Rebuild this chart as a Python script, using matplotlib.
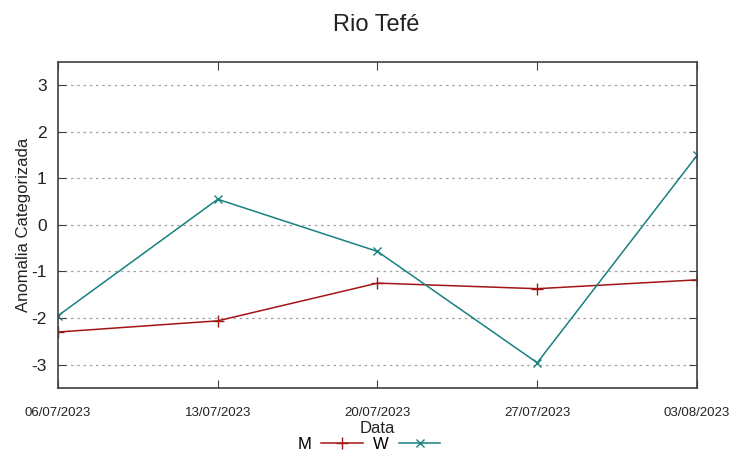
import matplotlib
matplotlib.use("Agg")
import matplotlib.pyplot as plt

plt.rcParams['font.family'] = ['Liberation Sans', 'DejaVu Sans']
plt.rcParams['axes.unicode_minus'] = False

dates = ["06/07/2023", "13/07/2023", "20/07/2023", "27/07/2023", "03/08/2023"]
m_vals = [-2.30, -2.06, -1.25, -1.37, -1.18]
w_vals = [-1.95, 0.55, -0.57, -2.96, 1.49]

red = '#a31515'
teal = '#178080'
frame = '#404040'

fig = plt.figure(figsize=(7.53, 4.58), dpi=100)
ax = fig.add_axes([0.077, 0.153, 0.8486, 0.712])

x = list(range(len(dates)))
ax.plot(x, m_vals, color=red, lw=1.1, marker='+', ms=9, mew=1.0, label='M')
ax.plot(x, w_vals, color=teal, lw=1.1, marker='x', ms=6, mew=1.0, label='W')

ax.set_xlim(0, len(dates) - 1)
ax.set_ylim(-3.5, 3.5)
ax.set_xticks(x)
ax.set_xticklabels(dates, fontsize=9.5, color='#222222')
ax.set_yticks([-3, -2, -1, 0, 1, 2, 3])
ax.tick_params(axis='y', labelsize=12.5, labelcolor='#222222', direction='in', right=True,
               length=6, color=frame, pad=8)
ax.tick_params(axis='x', direction='in', top=True, length=6, color=frame, pad=14)
ax.grid(axis='y', color='#a0a0a0', ls=(0, (2, 3)), lw=0.9)
for s in ax.spines.values():
    s.set_color(frame)
    s.set_linewidth(1.2)

ax.set_xlabel("Data", fontsize=12, labelpad=1, color='#222222')
ax.set_ylabel("Anomalia Categorizada", fontsize=12, labelpad=0, color='#222222')
fig.suptitle("Rio Tefé", fontsize=17, y=0.97, color='#222222')

fig.legend(loc='lower center', bbox_to_anchor=(0.49, -0.02), ncol=2, frameon=False,
           markerfirst=False, fontsize=12, handlelength=2.5, columnspacing=0.6, handletextpad=0.6)

fig.savefig("out.png", dpi=100)
